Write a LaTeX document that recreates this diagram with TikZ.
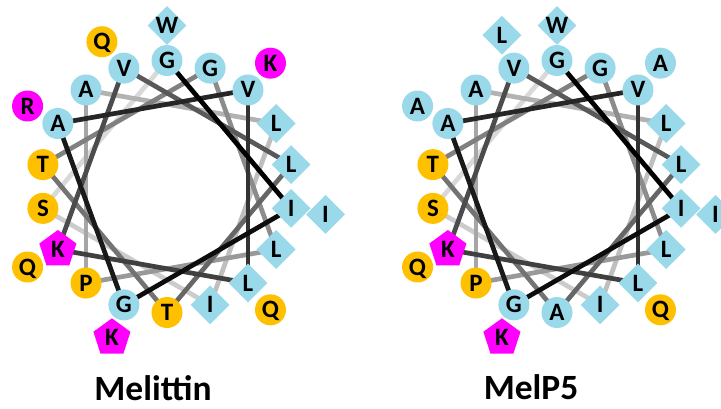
\documentclass[tikz,border=0pt]{standalone}
\usepackage{fontspec}
\setmainfont{Carlito}
\usetikzlibrary{shapes.geometric,backgrounds}
\definecolor{hblue}{HTML}{99D9EA}
\definecolor{horange}{HTML}{FFC000}
\definecolor{hmag}{HTML}{FF00FF}
\tikzset{
 res/.style={inner sep=0pt, font=\bfseries\fontsize{25}{25}\selectfont, text height=16pt, text depth=0pt},
 rcirc/.style={res, circle, minimum size=31pt},
 hyd/.style={res, diamond, minimum width=39pt, minimum height=39pt, fill=hblue},
 bcirc/.style={rcirc, fill=hblue},
 ocirc/.style={rcirc, fill=horange},
 mcirc/.style={rcirc, fill=hmag},
 mpent/.style={res, regular polygon, regular polygon sides=5, minimum size=39pt, fill=hmag},
 helix/.style={line width=4.7pt},
 title/.style={font=\bfseries\fontsize{35.5}{35.5}\selectfont, anchor=base, text depth=0pt, inner sep=0pt}
}
\begin{document}
\begin{tikzpicture}[x=1pt,y=-1pt]
\useasboundingbox (0,0) rectangle (721,408);
\clip (0,0) rectangle (721,408);
% Melittin wheel
\foreach \i/\l/\s/\dx/\dy in {19/W/hyd/0/0, 20/I/hyd/0/0, 21/K/mpent/0/0, 22/R/mcirc/0/0, 23/K/mcirc/0/0, 24/Q/ocirc/0/0, 25/Q/ocirc/0/0, 26/Q/ocirc/-10/6.5,
  1/G/bcirc/0/0, 2/I/hyd/0/0, 3/G/bcirc/0/0, 4/A/bcirc/0/0, 5/V/bcirc/0/0, 6/L/hyd/0/0, 7/K/mpent/0/0, 8/V/bcirc/0/0, 9/L/hyd/0/0,
  10/T/ocirc/0/0, 11/T/ocirc/0/0, 12/G/bcirc/0/0, 13/L/hyd/0/0, 14/P/ocirc/0/0, 15/A/bcirc/0/0, 16/L/hyd/0/0, 17/I/hyd/0/0, 18/S/ocirc/0/0} {
  \pgfmathsetmacro\rad{\i<19 ? 126 : 161}
  \pgfmathsetmacro\px{167+\rad*sin(100*(\i-1))+\dx}
  \pgfmathsetmacro\py{186.5-\rad*cos(100*(\i-1))+\dy}
  \node[\s] (m\i) at (\px,\py) {\l};
}
% MelP5 wheel
\foreach \i/\l/\s in {19/W/hyd, 20/I/hyd, 21/K/mpent, 22/A/bcirc, 23/A/bcirc, 24/Q/ocirc, 25/Q/ocirc, 26/L/hyd,
  1/G/bcirc, 2/I/hyd, 3/G/bcirc, 4/A/bcirc, 5/V/bcirc, 6/L/hyd, 7/K/mpent, 8/V/bcirc, 9/L/hyd,
  10/A/bcirc, 11/T/ocirc, 12/G/bcirc, 13/L/hyd, 14/P/ocirc, 15/A/bcirc, 16/L/hyd, 17/I/hyd, 18/S/ocirc} {
  \pgfmathsetmacro\rad{\i<19 ? 126 : 161}
  \pgfmathsetmacro\px{557+\rad*sin(100*(\i-1))}
  \pgfmathsetmacro\py{186.5-\rad*cos(100*(\i-1))}
  \node[\s] (p\i) at (\px,\py) {\l};
}
\begin{scope}[on background layer]
\foreach \w in {m,p} {
  \foreach \a/\b/\k in {18/1/18, 17/18/17, 16/17/16, 15/16/15, 14/15/14, 13/14/13, 12/13/12, 11/12/11, 10/11/10,
    9/10/9, 8/9/8, 7/8/7, 6/7/6, 5/6/5, 4/5/4, 3/4/3, 2/3/2, 1/2/1} {
    \pgfmathtruncatemacro\g{100-(\k-1)/17*85}
    \draw[helix, black!\g!white] (\w\a.center) -- (\w\b.center);
  }
}
\end{scope}
\node[title] (t1) at (153,400) {Melittin};
\node[title] (t2) at (531,399) {MelP5};
\end{tikzpicture}
\end{document}
